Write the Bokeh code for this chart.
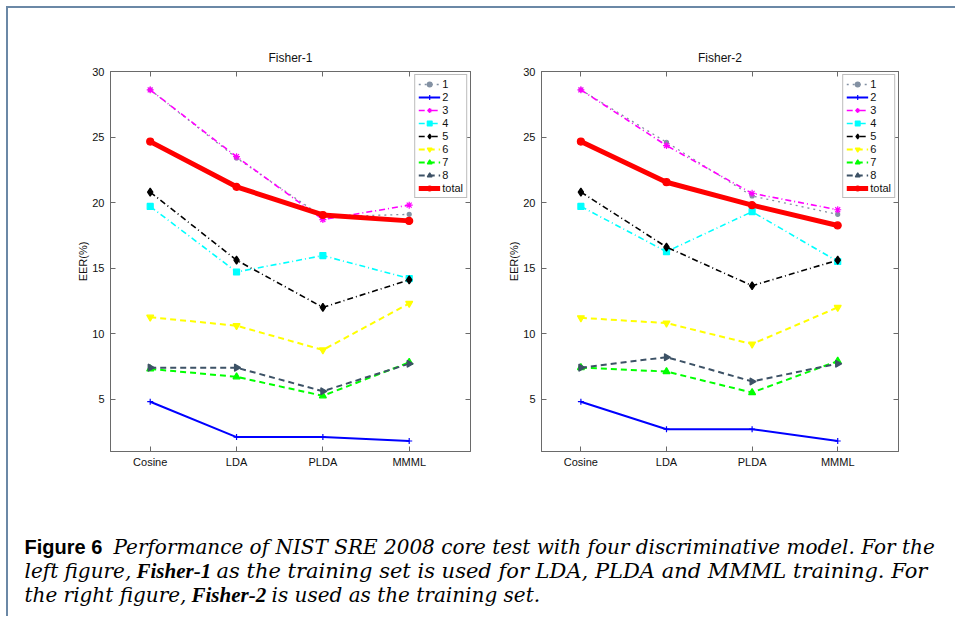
import math
from bokeh.plotting import figure
from bokeh.models import (Range1d, FixedTicker, LinearAxis, Legend, LegendItem,
                          CustomLabelingPolicy)
from bokeh.layouts import column, row
from bokeh.core.properties import value
from bokeh.embed import file_html
from bokeh.resources import INLINE

methods = ["Cosine", "LDA", "PLDA", "MMML"]
xpos = [1, 2, 3, 4]
series_names = ["1", "2", "3", "4", "5", "6", "7", "8", "total"]

fisher1 = {
    "1": [28.6, 23.4, 18.9, 19.1],
    "2": [4.8, 2.1, 2.1, 1.8],
    "3": [28.6, 23.5, 18.7, 19.8],
    "4": [19.7, 14.7, 15.95, 14.2],
    "5": [20.8, 15.6, 12.0, 14.1],
    "6": [11.25, 10.6, 8.75, 12.3],
    "7": [7.3, 6.7, 5.25, 7.8],
    "8": [7.4, 7.4, 5.6, 7.7],
    "total": [24.65, 21.2, 19.05, 18.6],
}
fisher2 = {
    "1": [28.6, 24.6, 20.5, 19.1],
    "2": [4.8, 2.7, 2.7, 1.8],
    "3": [28.6, 24.35, 20.7, 19.45],
    "4": [19.7, 16.25, 19.3, 15.5],
    "5": [20.8, 16.6, 13.65, 15.6],
    "6": [11.2, 10.8, 9.2, 12.0],
    "7": [7.4, 7.1, 5.5, 7.9],
    "8": [7.4, 8.2, 6.35, 7.7],
    "total": [24.65, 21.55, 19.8, 18.25],
}
yticks = [5, 10, 15, 20, 25, 30]

styles = {
    "1": dict(color="#8391a3", dash="dotted", width=1.3, marker="circle", size=4),
    "2": dict(color="#0000ff", dash="solid", width=2.0, marker="cross", size=6),
    "3": dict(color="#ff00ff", dash="6 3 1 3", width=1.6, marker="asterisk", size=7),
    "4": dict(color="#00ffff", dash="6 3 1 3", width=1.6, marker="square", size=6),
    "5": dict(color="#000000", dash="6 3 1 3", width=1.6, marker="diamond", size=8),
    "6": dict(color="#ffff00", dash="6 4", width=2.0, marker="inverted_triangle", size=7),
    "7": dict(color="#00ff00", dash="6 4", width=2.0, marker="triangle", size=7),
    "8": dict(color="#3d5266", dash="6 4", width=2.0, marker="triangle", size=7),
    "total": dict(color="#ff0000", dash="solid", width=5.0, marker="circle", size=7),
}

AXC = "#6a6a6a"
FONT = "Liberation Sans"

no_labels = CustomLabelingPolicy(code="""
    const all = [...indices];
    for (const i of all) { indices.unset(i); }
    return indices;
""")


def make_panel(title, data, width, mbl, mbr):
    p = figure(width=width, height=482, output_backend="svg", toolbar_location=None,
               x_range=Range1d(0.54, 4.71), y_range=Range1d(1, 30),
               min_border_left=mbl, min_border_right=mbr, min_border_top=63,
               min_border_bottom=39, title=title)
    p.title.align = "center"
    p.title.text_font = FONT
    p.title.text_font_style = "normal"
    p.title.text_font_size = "12px"
    p.title.text_color = "#111111"
    p.title.standoff = -9
    p.outline_line_color = AXC
    p.outline_line_width = 1
    p.xgrid.visible = False
    p.ygrid.visible = False

    p.xaxis.ticker = FixedTicker(ticks=xpos)
    p.xaxis.major_label_overrides = {i: m for i, m in zip(xpos, methods)}
    p.yaxis.ticker = FixedTicker(ticks=yticks)
    for ax in (p.xaxis[0], p.yaxis[0]):
        ax.axis_line_color = AXC
        ax.major_tick_line_color = AXC
        ax.major_tick_in = 5
        ax.major_tick_out = 0
        ax.minor_tick_line_color = None
        ax.major_label_text_font = FONT
        ax.major_label_text_font_size = "11px"
        ax.major_label_text_color = "#111111"
    p.xaxis.major_label_standoff = 4
    p.yaxis.major_label_standoff = 6
    p.yaxis.axis_label = "EER(%)"
    p.yaxis.axis_label_text_font = FONT
    p.yaxis.axis_label_text_font_size = "11px"
    p.yaxis.axis_label_text_font_style = "normal"
    p.yaxis.axis_label_text_color = "#111111"
    p.yaxis.axis_label_standoff = 0

    # mirrored ticks on the right and top (no labels)
    ax_r = LinearAxis(ticker=FixedTicker(ticks=yticks), major_label_policy=no_labels)
    ax_t = LinearAxis(ticker=FixedTicker(ticks=xpos), major_label_policy=no_labels)
    for ax in (ax_r, ax_t):
        ax.axis_line_color = AXC
        ax.major_tick_line_color = AXC
        ax.major_tick_in = 5
        ax.major_tick_out = 0
        ax.minor_tick_line_color = None
        ax.major_label_standoff = 0
    p.add_layout(ax_r, "right")
    p.add_layout(ax_t, "above")

    items = []
    for name in series_names:
        st = styles[name]
        ys = data[name]
        lr = p.line(xpos, ys, line_color=st["color"], line_width=st["width"],
                    line_dash=st["dash"])
        kw = dict(marker=st["marker"], size=st["size"], line_color=st["color"],
                  fill_color=st["color"], line_width=1.2)
        if name == "8":
            kw["angle"] = -math.pi / 2
        sr = p.scatter(xpos, ys, **kw)
        items.append(LegendItem(label=name, renderers=[lr, sr]))

    leg = Legend(items=items, location="top_right")
    leg.margin = 3
    leg.padding = 3
    leg.spacing = 1
    leg.glyph_width = 22
    leg.glyph_height = 12
    leg.label_height = 12
    leg.label_standoff = 2
    leg.label_text_font = FONT
    leg.label_text_font_size = "11px"
    leg.label_text_color = "#111111"
    leg.border_line_color = "#7a7a7a"
    leg.border_line_width = 1
    leg.background_fill_alpha = 1.0
    p.add_layout(leg, "center")
    return p


p1 = make_panel("Fisher-1", fisher1, 497, 102, 35)
p2 = make_panel("Fisher-2", fisher2, 450, 35, 57)

# caption: data coordinates == page pixel coordinates
cap = figure(width=947, height=126, output_backend="svg", toolbar_location=None,
             x_range=Range1d(8, 955), y_range=Range1d(616, 490),
             min_border=0, min_border_left=0, min_border_right=0,
             min_border_top=0, min_border_bottom=0)
cap.axis.visible = False
cap.grid.visible = False
cap.outline_line_color = None

SERIF = "DejaVu Serif"
BSERIF = "Liberation Serif"
caption_segments = [
    # (x, y, text, font, style, size)
    (24, 546, "Figure 6", FONT, "bold", "20px"),
    (113, 546, "Performance of NIST SRE 2008 core test with four discriminative model. For the", SERIF, "italic", "20px"),
    (24, 570, "left figure,", SERIF, "italic", "20px"),
    (136, 570, "Fisher-1", BSERIF, "bold italic", "21px"),
    (216, 570, "as the training set is used for LDA, PLDA and MMML training. For", SERIF, "italic", "21px"),
    (24, 594, "the right figure,", SERIF, "italic", "20px"),
    (191, 594, "Fisher-2", BSERIF, "bold italic", "21px"),
    (271, 594, "is used as the training set.", SERIF, "italic", "20px"),
]
for x, y, t, f, s, z in caption_segments:
    cap.text(x=[x], y=[y], text=[t], text_font=value(f), text_font_style=s,
             text_font_size=z, text_color="#000000",
             text_baseline="middle", text_align="left")

layout = column(row(p1, p2), cap,
                styles={"border-left": "2px solid #6b88a6", "border-top": "2px solid #6b88a6",
                        "margin-left": "6px", "margin-top": "6px"})

open("out.html", "w").write(file_html(layout, INLINE))
